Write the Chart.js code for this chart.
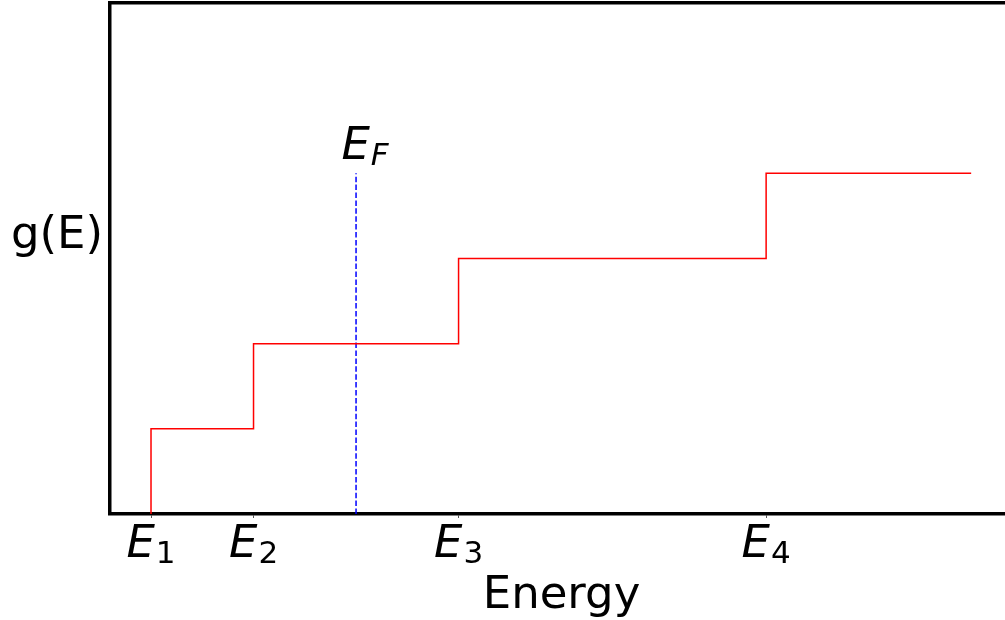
<!DOCTYPE html>
<html>
<head>
<meta charset="utf-8">
<script src="https://cdn.jsdelivr.net/npm/chart.js@4.4.1/dist/chart.umd.min.js"></script>
<style>
html,body{margin:0;padding:0;background:#fff;overflow:hidden;}
canvas{display:block;}
</style>
</head>
<body>
<canvas id="c" width="1005" height="620"></canvas>
<script>
// Step edges (energies) and DOS level reached after each edge
const energies = [1, 2, 4, 7, 9];
const levels = [0, 1, 2, 3, 4];
// Fermi level line
const fermiEnergy = 3;
const fermiTop = 4;
// Tick labels
const tickValues = [1, 2, 4, 7];
const tickSubs = ['1', '2', '3', '4'];
const xTitle = 'Energy';
const yTitle = 'g(E)';
const fermiSub = 'F';

const stepData = energies.map((e, i) => ({x: e, y: levels[i]}));
const fermiData = [{x: fermiEnergy, y: 0}, {x: fermiEnergy, y: fermiTop}];

const FONT = '"DejaVu Sans", sans-serif';

function drawSubLabel(ctx, cx, baseline, main, sub, subItalic) {
  ctx.save();
  ctx.fillStyle = '#000';
  ctx.textBaseline = 'alphabetic';
  ctx.textAlign = 'left';
  ctx.font = 'italic 45px ' + FONT;
  const w1 = ctx.measureText(main).width;
  ctx.font = (subItalic ? 'italic ' : '') + '31px ' + FONT;
  const w2 = ctx.measureText(sub).width;
  const total = w1 + w2 + 1;
  const x0 = cx - total / 2;
  ctx.font = 'italic 45px ' + FONT;
  ctx.fillText(main, x0, baseline);
  ctx.font = (subItalic ? 'italic ' : '') + '31px ' + FONT;
  ctx.fillText(sub, x0 + w1 + 1, baseline + 6);
  ctx.restore();
}

const labelPlugin = {
  id: 'labels',
  afterDraw(chart) {
    const ctx = chart.ctx;
    const xs = chart.scales.x, ys = chart.scales.y;
    tickValues.forEach((v, i) => {
      drawSubLabel(ctx, xs.getPixelForValue(v), 557, 'E', tickSubs[i], false);
    });
    drawSubLabel(ctx, xs.getPixelForValue(fermiEnergy) + 9, ys.getPixelForValue(fermiTop) - 14, 'E', fermiSub, true);
    ctx.save();
    ctx.fillStyle = '#000';
    ctx.font = '45px ' + FONT;
    ctx.textAlign = 'center';
    ctx.textBaseline = 'alphabetic';
    ctx.fillText(xTitle, 561.5, 608);
    ctx.fillText(yTitle, 57, 248);
    ctx.restore();
  }
};

new Chart(document.getElementById('c'), {
  type: 'line',
  data: {
    datasets: [
      {
        data: stepData,
        borderColor: '#ff0000',
        borderWidth: 1.5,
        stepped: 'after',
        pointRadius: 0,
        fill: false
      },
      {
        data: fermiData,
        borderColor: '#0000ff',
        borderWidth: 1.5,
        borderDash: [5.5, 2.4],
        pointRadius: 0,
        fill: false
      }
    ]
  },
  options: {
    responsive: false,
    animation: false,
    devicePixelRatio: 1,
    layout: {padding: {left: 0, right: 0, top: 3, bottom: 0}},
    plugins: {legend: {display: false}, tooltip: {enabled: false}},
    scales: {
      x: {
        type: 'linear',
        position: 'bottom',
        min: 0.6,
        max: 9.33,
        afterBuildTicks(scale) { scale.ticks = tickValues.map(v => ({value: v})); },
        afterFit(scale) { scale.height = 106; },
        ticks: {display: false},
        grid: {drawOnChartArea: false, drawTicks: true, tickLength: 4, color: '#555', lineWidth: 1},
        border: {display: true, color: '#000', width: 3.5}
      },
      x2: {
        type: 'linear',
        position: 'top',
        min: 0, max: 1,
        afterFit(scale) { scale.height = 0; },
        ticks: {display: false},
        grid: {display: false, drawOnChartArea: false, drawTicks: false},
        border: {display: true, color: '#000', width: 3.5}
      },
      y: {
        type: 'linear',
        min: 0,
        max: 6,
        afterFit(scale) { scale.width = 110; },
        ticks: {display: false},
        grid: {display: false, drawOnChartArea: false, drawTicks: false},
        border: {display: true, color: '#000', width: 3.5}
      }
    }
  },
  plugins: [labelPlugin]
});
</script>
</body>
</html>
